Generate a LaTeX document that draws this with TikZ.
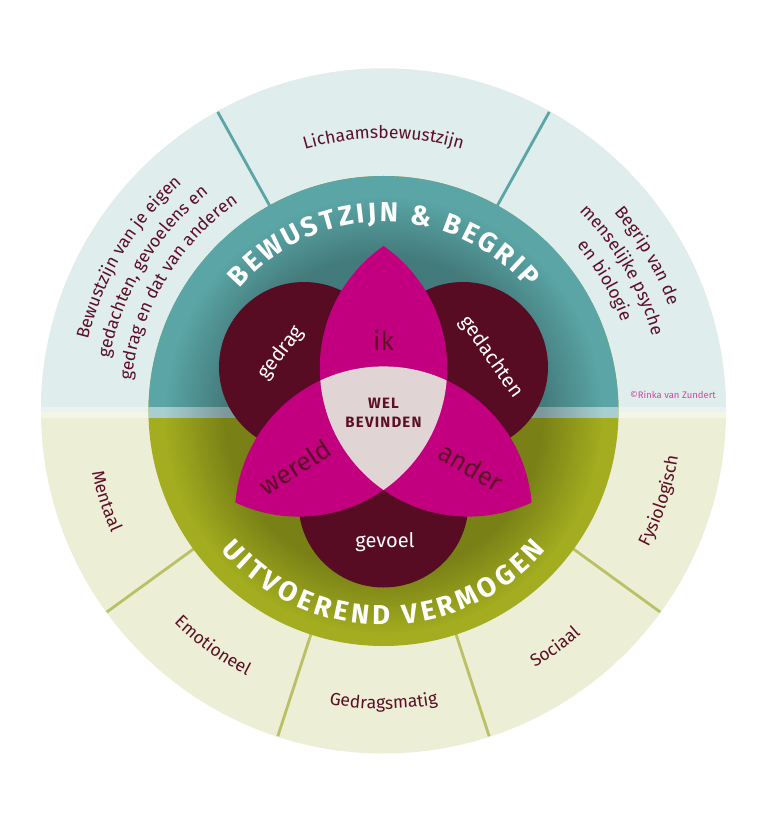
\documentclass[tikz,border=0pt]{standalone}
\usepackage{fontspec}
\setmainfont{Fira Sans}
\usetikzlibrary{decorations.text,fadings}
\pgfdeclareradialshading{softshade}{\pgfpointorigin}{color(0bp)=(pgftransparent!0); color(18bp)=(pgftransparent!0); color(25bp)=(pgftransparent!100); color(50bp)=(pgftransparent!100)}
\pgfdeclarefading{softfade}{\pgfuseshading{softshade}}
\definecolor{cLtTeal}{HTML}{DFEDED}
\definecolor{cTeal}{HTML}{5BA5A6}
\definecolor{cOlive}{HTML}{A3AD1F}
\definecolor{cLtOlive}{HTML}{ECEED6}
\definecolor{cStripA}{HTML}{E9F3F1}
\definecolor{cStripB}{HTML}{F5F5E7}
\definecolor{cStripMid}{HTML}{A8CECF}
\definecolor{cMaroon}{HTML}{570C23}
\definecolor{cMagenta}{HTML}{C2007F}
\definecolor{cWel}{HTML}{E0D4D4}
\definecolor{cText}{HTML}{5C0F27}
\definecolor{cSpokeTop}{HTML}{5BA5A6}
\definecolor{cSpokeBot}{HTML}{BAC164}
\definecolor{cCopy}{HTML}{C94A9E}
\newcommand\ringfont{\fontsize{17.5}{20}\selectfont}
\newcommand\bandfont{\bfseries\fontsize{27.5}{30}\selectfont}
\newcommand\innerfont{\fontsize{20}{24}\selectfont}
\newcommand\petalfont{\fontsize{26}{30}\selectfont}
\begin{document}
\begin{tikzpicture}[x=1pt,y=1pt,
  ringlabel/.style={decorate,decoration={text along path,text align=center,text color=cText}},
  bandlabel/.style={decorate,decoration={text along path,text align=fit to path,text color=white}},
  innerlbl/.style={text=white,font=\innerfont,inner sep=0pt},
  petallbl/.style={text=cText,font=\petalfont,inner sep=0pt},
  wellbl/.style={text=cText,font=\bfseries\fontsize{15}{19}\selectfont\addfontfeature{LetterSpace=8},align=center,inner sep=0pt},
  copylbl/.style={text=cCopy,font=\fontsize{9.5}{11}\selectfont,inner sep=0pt},
  spoketop/.style={cSpokeTop,line width=2.8pt},
  spokebot/.style={cSpokeBot,line width=2.8pt}
]
\useasboundingbox (-383.5,411) rectangle (384.5,-408);
\fill[white] (-383.5,411) rectangle (384.5,-408);
% outer disc
\fill[cLtOlive] (0,0) circle (342.5);
\begin{scope}\clip (-400,4) rectangle (400,400); \fill[cLtTeal] (0,0) circle (342.5); \end{scope}
\begin{scope}\clip (-400,-1) rectangle (400,4); \fill[cStripA] (0,0) circle (342.5); \end{scope}
\begin{scope}\clip (-400,-6) rectangle (400,-1); \fill[cStripB] (0,0) circle (342.5); \end{scope}
% spokes
\foreach \a in {61,119} \draw[spoketop] (\a:234) -- (\a:342);
\foreach \a in {216,252,288,324} \draw[spokebot] (\a:234) -- (\a:342);
% middle ring
\fill[cOlive] (0,0) circle (235);
\begin{scope}\clip (-400,4) rectangle (400,400); \fill[cTeal] (0,0) circle (235); \end{scope}
\begin{scope}\clip (-400,-6) rectangle (400,4); \fill[cStripMid] (0,0) circle (235); \end{scope}
% soft shadow
\begin{scope}
\clip (0,0) circle (235);
\fill[black,opacity=0.26,path fading=softfade] (0,-4) circle (218);
\end{scope}
% maroon circles
\coordinate (Gd) at (-79.5,44);
\coordinate (Gt) at (79.5,44);
\coordinate (Gv) at (0,-91.5);
\fill[cMaroon] (Gd) circle (85);
\fill[cMaroon] (Gt) circle (85);
\fill[cMaroon] (Gv) circle (85);
% magenta petals
\coordinate (Lc) at (-84.9,43);
\coordinate (Rc) at (84.9,43);
\coordinate (Bc) at (0,-104);
\def\Rm{148.6}
\begin{scope}\clip (Lc) circle (\Rm); \fill[cMagenta] (Rc) circle (\Rm); \end{scope}
\begin{scope}\clip (Lc) circle (\Rm); \fill[cMagenta] (Bc) circle (\Rm); \end{scope}
\begin{scope}\clip (Rc) circle (\Rm); \fill[cMagenta] (Bc) circle (\Rm); \end{scope}
\begin{scope}\clip (Lc) circle (\Rm); \clip (Rc) circle (\Rm); \fill[cWel] (Bc) circle (\Rm); \end{scope}
% band texts
\path[bandlabel,decoration={text={|\bandfont|BEWUSTZIJN {\&} BEGRIP}}] (139.5:189) arc[start angle=139.5,end angle=40.5,radius=189];
\path[bandlabel,decoration={text={|\bandfont|UITVOEREND VERMOGEN}}] (220.5:214) arc[start angle=220.5,end angle=319.5,radius=214];
% outer labels top
\path[ringlabel,decoration={text={|\ringfont|Lichaamsbewustzijn}}] (130:273) arc[start angle=130,end angle=50,radius=273];
\path[ringlabel,decoration={text={|\ringfont|Bewustzijn van je eigen}}] (189:304) arc[start angle=189,end angle=109,radius=304];
\path[ringlabel,decoration={text={|\ringfont|gedachten, gevoelens en}}] (189:279) arc[start angle=189,end angle=109,radius=279];
\path[ringlabel,decoration={text={|\ringfont|gedrag en dat van anderen}}] (189:254) arc[start angle=189,end angle=109,radius=254];
\path[ringlabel,decoration={text={|\ringfont|Begrip van de}}] (70.5:304) arc[start angle=70.5,end angle=-9.5,radius=304];
\path[ringlabel,decoration={text={|\ringfont|menselijke psyche}}] (70.5:279) arc[start angle=70.5,end angle=-9.5,radius=279];
\path[ringlabel,decoration={text={|\ringfont|en biologie}}] (70.5:254) arc[start angle=70.5,end angle=-9.5,radius=254];
% outer labels bottom
\path[ringlabel,decoration={text={|\ringfont|Mentaal}}] (168:298) arc[start angle=168,end angle=228,radius=298];
\path[ringlabel,decoration={text={|\ringfont|Emotioneel}}] (204:298) arc[start angle=204,end angle=264,radius=298];
\path[ringlabel,decoration={text={|\ringfont|Gedragsmatig}}] (240:298) arc[start angle=240,end angle=300,radius=298];
\path[ringlabel,decoration={text={|\ringfont|Sociaal}}] (276:298) arc[start angle=276,end angle=336,radius=298];
\path[ringlabel,decoration={text={|\ringfont|Fysiologisch}}] (312:298) arc[start angle=312,end angle=372,radius=298];
% inner labels
\node[innerlbl,rotate=52.5] (lgedrag) at (-102.5,58) {gedrag};
\node[innerlbl,rotate=-54.5] (lgedachten) at (107.5,54) {gedachten};
\node[innerlbl] (lgevoel) at (1.5,-130.7) {gevoel};
\node[petallbl] (lik) at (0,71) {ik};
\node[petallbl,rotate=32.7] (lwereld) at (-88.5,-56) {wereld};
\node[petallbl,rotate=-30.7] (lander) at (87.5,-56) {ander};
\node[wellbl] (lwel) at (0,-2) {WEL\\BEVINDEN};
\node[copylbl] (lcopy) at (289.5,16) {©Rinka van Zundert};
\end{tikzpicture}
\end{document}
